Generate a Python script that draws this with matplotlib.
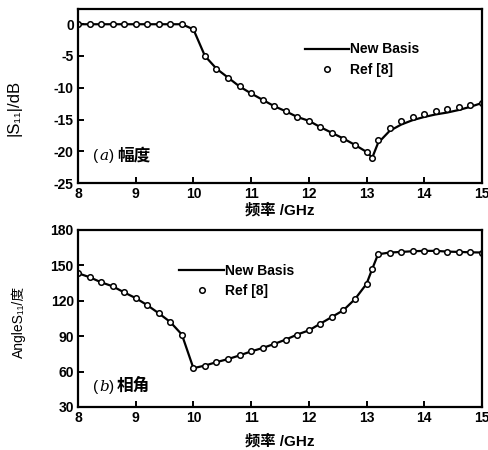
import matplotlib
matplotlib.use("Agg")
import matplotlib.pyplot as plt

plt.rcParams["font.family"] = ["Liberation Sans", "DejaVu Sans", "Noto Sans CJK SC"]
plt.rcParams["axes.unicode_minus"] = False

# frequency grid (GHz), markers every 0.2 GHz plus the dip point at 13.1
freq = [8.0, 8.2, 8.4, 8.6, 8.8, 9.0, 9.2, 9.4, 9.6, 9.8,
        10.0, 10.2, 10.4, 10.6, 10.8, 11.0, 11.2, 11.4, 11.6, 11.8,
        12.0, 12.2, 12.4, 12.6, 12.8, 13.0, 13.1, 13.2, 13.4, 13.6,
        13.8, 14.0, 14.2, 14.4, 14.6, 14.8, 15.0]

# (a) magnitude |S11| in dB
mag_ref = [0, 0, 0, 0, 0, 0, 0, 0, 0, 0,
           -0.8, -5.0, -7.0, -8.4, -9.8, -10.9, -11.9, -12.9, -13.7, -14.6,
           -15.2, -16.2, -17.1, -18.0, -19.0, -20.1, -21.0, -18.3, -16.4, -15.3,
           -14.6, -14.2, -13.7, -13.4, -13.1, -12.75, -12.4]
mag_new = [0, 0, 0, 0, 0, 0, 0, 0, 0, 0,
           -0.8, -5.0, -7.0, -8.4, -9.8, -10.9, -11.9, -12.9, -13.7, -14.6,
           -15.2, -16.2, -17.1, -18.0, -19.0, -20.1, -21.0, -18.7, -16.8, -15.8,
           -15.1, -14.6, -14.2, -13.9, -13.5, -13.0, -12.4]

# (b) phase of S11 in degrees
ang_ref = [143.4, 140.0, 135.7, 132.3, 127.1, 122.3, 116.3, 109.4, 102.0, 91.4,
           62.9, 65.1, 68.0, 70.6, 73.7, 77.1, 80.0, 83.4, 87.1, 91.4,
           94.9, 100.6, 106.3, 112.0, 121.4, 134.3, 147.1, 159.4, 160.9, 161.4,
           162.0, 162.3, 162.3, 161.7, 161.4, 161.1, 160.9]
ang_new = ang_ref

xticks = [8, 9, 10, 11, 12, 13, 14, 15]
mag_ticks = [0, -5, -10, -15, -20, -25]
ang_ticks = [30, 60, 90, 120, 150, 180]

fig = plt.figure(figsize=(4.89, 4.5), dpi=100)
ax1 = fig.add_axes([0.1595, 0.5933, 0.826, 0.3867])
ax2 = fig.add_axes([0.1595, 0.0956, 0.826, 0.3933])


def style_axis(ax):
    for sp in ax.spines.values():
        sp.set_linewidth(1.6)
    ax.tick_params(direction="in", length=4, width=1.4, labelsize=10, pad=3)
    for lab in ax.get_xticklabels() + ax.get_yticklabels():
        lab.set_fontweight("bold")


def panel_label(ax, y, letter, name):
    ax.text(0.037, y, "(", transform=ax.transAxes, fontsize=11)
    ax.text(0.054, y, letter, transform=ax.transAxes, fontsize=11,
            family="DejaVu Serif", style="italic")
    ax.text(0.077, y, ")", transform=ax.transAxes, fontsize=11)
    ax.text(0.097, y, name, transform=ax.transAxes, fontsize=12,
            family="Noto Sans CJK SC", fontweight="bold")


# top panel
ax1.plot(freq, mag_new, color="black", lw=1.6, label="New Basis")
ax1.plot(freq, mag_ref, linestyle="none", marker="o", ms=4, mfc="white",
         mec="black", mew=1.1, label="Ref [8]")
ax1.set_xlim(8, 15)
ax1.set_ylim(-25, 2.4)
ax1.set_xticks(xticks)
ax1.set_yticks(mag_ticks)
style_axis(ax1)
ax1.set_xlabel("频率 /GHz", fontsize=11, fontweight="bold", labelpad=1)
ax1.set_ylabel("|S₁₁|/dB", fontsize=12)
ax1.yaxis.set_label_coords(-0.14, 0.43)
panel_label(ax1, 0.13, "a", "幅度")
ax1.legend(loc="upper left", bbox_to_anchor=(0.53, 0.88), frameon=False,
           handlelength=3.2, handletextpad=0.1, labelspacing=0.45,
           prop={"weight": "bold", "size": 10})

# bottom panel
ax2.plot(freq, ang_new, color="black", lw=1.6, label="New Basis")
ax2.plot(freq, ang_ref, linestyle="none", marker="o", ms=4, mfc="white",
         mec="black", mew=1.1, label="Ref [8]")
ax2.set_xlim(8, 15)
ax2.set_ylim(30, 180)
ax2.set_xticks(xticks)
ax2.set_yticks(ang_ticks)
style_axis(ax2)
ax2.set_xlabel("频率 /GHz", fontsize=11, fontweight="bold", labelpad=6)
ax2.set_ylabel("AngleS₁₁/度", fontsize=10)
ax2.yaxis.set_label_coords(-0.129, 0.48)
panel_label(ax2, 0.09, "b", "相角")
ax2.legend(loc="upper left", bbox_to_anchor=(0.22, 0.88), frameon=False,
           handlelength=3.2, handletextpad=0.1, labelspacing=0.45,
           prop={"weight": "bold", "size": 10})

fig.savefig("out.png", dpi=100)
